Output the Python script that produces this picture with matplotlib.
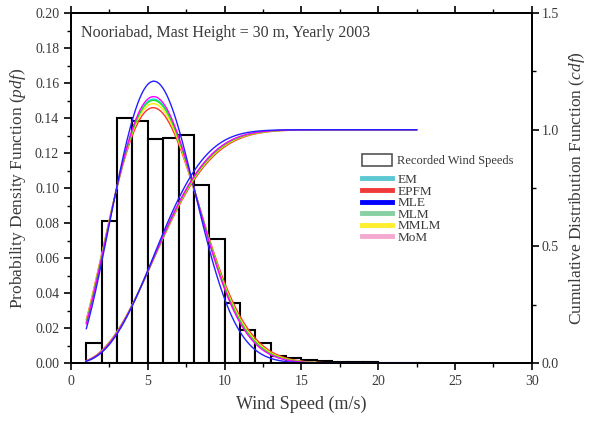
import numpy as np
import matplotlib
matplotlib.use("Agg")
import matplotlib.pyplot as plt
from matplotlib.lines import Line2D
from matplotlib.patches import Patch
from matplotlib.ticker import MultipleLocator

# recorded wind speed histogram (1 m/s bins starting at 1 m/s)
bin_left = [1, 2, 3, 4, 5, 6, 7, 8, 9, 10, 11, 12, 13, 14, 15, 16, 17, 18, 19, 20, 21, 22]
bin_freq = [0.0114, 0.0811, 0.1398, 0.1385, 0.1282, 0.1288, 0.1305, 0.1015, 0.0710, 0.0345,
            0.0186, 0.0116, 0.0042, 0.0028, 0.0015, 0.0009, 0.0006, 0.0004, 0.0003, 0.0002,
            0.0002, 0.0001]

# fitted Weibull parameters per method (shape k, scale c in m/s)
methods = ["EM", "EPFM", "MLE", "MLM", "MMLM", "MoM"]
shape_k = [2.47, 2.40, 2.61, 2.46, 2.43, 2.49]
scale_c = [6.63, 6.70, 6.49, 6.64, 6.66, 6.61]

line_colors = ["#00e5ee", "#ff3030", "#2020ff", "#20e020", "#f5f000", "#ff00ff"]
legend_colors = ["#5cc8d2", "#f03a3a", "#0000ff", "#86d0a2", "#ffee2e", "#f4aad0"]

plt.rcParams["font.family"] = ["Liberation Serif", "DejaVu Serif"]
plt.rcParams["mathtext.fontset"] = "custom"
plt.rcParams["mathtext.it"] = "Liberation Serif:italic"
plt.rcParams["mathtext.rm"] = "Liberation Serif"

text_color = "#3a3a3a"

fig = plt.figure(figsize=(5.89, 4.23), dpi=100)
ax = fig.add_axes([0.1205, 0.1418, 0.7825, 0.8272])
ax2 = ax.twinx()

ax.bar(bin_left, bin_freq, width=1.0, align="edge", facecolor="white",
       edgecolor="black", linewidth=1.5, zorder=2)

x = np.linspace(1, 22.5, 400)
draw_order = [0, 1, 4, 3, 5, 2]
for i in draw_order:
    k, c = shape_k[i], scale_c[i]
    pdf = (k / c) * (x / c) ** (k - 1) * np.exp(-(x / c) ** k)
    cdf = 1 - np.exp(-(x / c) ** k)
    ax.plot(x, pdf, color=line_colors[i], linewidth=1.0, zorder=3)
    ax2.plot(x, cdf, color=line_colors[i], linewidth=1.0, zorder=3)

ax.set_xlim(0, 30)
ax.set_ylim(0, 0.20)
ax2.set_ylim(0, 1.5)

ax.xaxis.set_major_locator(MultipleLocator(5))
ax.xaxis.set_minor_locator(MultipleLocator(2.5))
ax.yaxis.set_major_locator(MultipleLocator(0.02))
ax.yaxis.set_minor_locator(MultipleLocator(0.01))
ax2.yaxis.set_major_locator(MultipleLocator(0.5))
ax2.yaxis.set_minor_locator(MultipleLocator(0.25))
ax.yaxis.set_major_formatter(plt.FormatStrFormatter("%.2f"))
ax2.yaxis.set_major_formatter(plt.FormatStrFormatter("%.1f"))

ax.tick_params(axis="x", which="both", direction="out", top=True, labelcolor=text_color,
               labelsize=10)
ax.tick_params(axis="x", which="major", length=5, width=1.2)
ax.tick_params(axis="x", which="minor", length=3, width=1)
ax.tick_params(axis="y", which="major", direction="out", length=5, width=1.2,
               labelcolor=text_color, labelsize=10)
ax.tick_params(axis="y", which="minor", direction="out", length=3, width=1)
ax2.tick_params(axis="y", which="major", direction="out", length=5, width=1.2,
                labelcolor=text_color, labelsize=10, pad=2)
ax2.tick_params(axis="y", which="minor", direction="out", length=3, width=1)

for spine in list(ax.spines.values()) + list(ax2.spines.values()):
    spine.set_linewidth(1.3)

ax.set_xlabel("Wind Speed (m/s)", fontsize=13, color=text_color, labelpad=6)
ax.set_ylabel("Probability Density Function ($\\mathit{pdf}$)", fontsize=12.5,
              color=text_color, labelpad=5)
ax2.set_ylabel("Cumulative Distribution Function ($\\mathit{cdf}$)", fontsize=12.5,
               color=text_color, labelpad=6)

ax.text(0.022, 0.965, "Nooriabad, Mast Height = 30 m, Yearly 2003", transform=ax.transAxes,
        ha="left", va="top", fontsize=11.5, color=text_color)

hist_handle = [Patch(facecolor="white", edgecolor="#555555", linewidth=1.2)]
leg1 = ax2.legend(hist_handle, ["Recorded Wind Speeds"], loc="upper left",
                  bbox_to_anchor=(0.62, 0.612), frameon=False, fontsize=9,
                  handlelength=2.4, handleheight=1.1, handletextpad=0.4, borderaxespad=0)
for t in leg1.get_texts():
    t.set_color(text_color)
ax2.add_artist(leg1)

line_handles = [Line2D([0], [0], color=col, linewidth=3.5) for col in legend_colors]
leg2 = ax2.legend(line_handles, methods, loc="upper left", bbox_to_anchor=(0.62, 0.556),
                  frameon=False, fontsize=9.5, handlelength=2.3, labelspacing=-0.05,
                  handletextpad=0.4, borderaxespad=0)
for t in leg2.get_texts():
    t.set_color(text_color)

fig.savefig("out.png", dpi=100)
